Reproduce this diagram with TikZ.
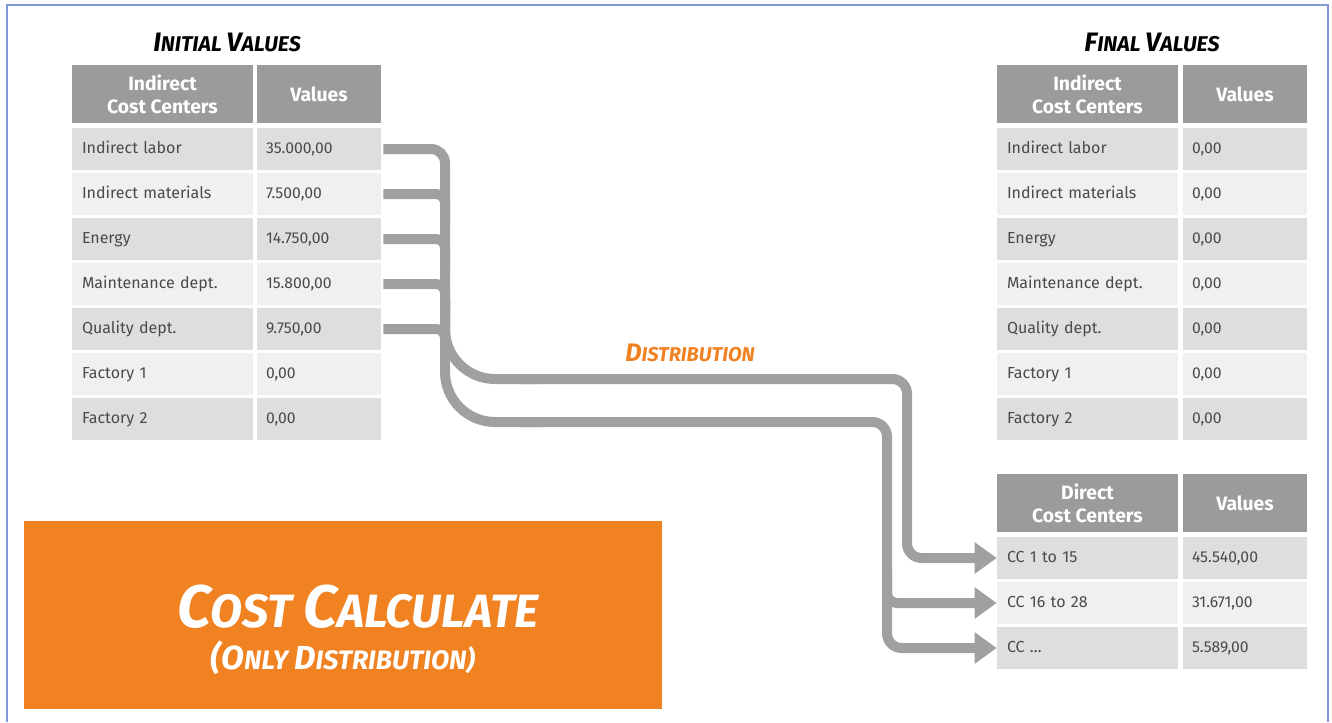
\documentclass[tikz,border=0pt]{standalone}
\usepackage{fontspec}
\setmainfont{Fira Sans}
\usetikzlibrary{arrows.meta}

\definecolor{hdr}{HTML}{9B9B9B}
\definecolor{rowA}{HTML}{DEDEDE}
\definecolor{rowB}{HTML}{EEF0F2}
\definecolor{txt}{HTML}{4A4A4A}
\definecolor{wirecol}{HTML}{A0A0A0}
\definecolor{accent}{HTML}{F18222}
\definecolor{framecol}{HTML}{7E98D8}

% first letter large, remaining letters smaller (hand-lettered small caps)
\newcommand\capsword[4]{{\fontsize{#1}{#1}\selectfont #3}{\fontsize{#2}{#2}\selectfont #4}}

\begin{document}
\begin{tikzpicture}[x=0.75pt,y=-0.75pt,
  cell/.style={inner ysep=0pt, minimum height=31.5pt, text=txt, align=left,
    text height=9pt, text depth=2.5pt},
  namecell/.style={cell, inner xsep=7.5pt, text width=120.75pt, font=\fontsize{12}{14}\selectfont},
  valcell/.style={cell, inner xsep=6.75pt, text width=79.5pt, font=\fontsize{11.8}{14}\selectfont},
  headcell/.style={fill=hdr, inner sep=0pt, minimum height=43.5pt, text=white,
    font=\bfseries\fontsize{14.5}{16}\selectfont, align=center},
  headname/.style={headcell, minimum width=135.75pt},
  headval/.style={headcell, minimum width=93pt},
  title/.style={font=\bfseries\itshape, text=black},
  wire/.style={draw=wirecol, line width=7.5pt},
  tip/.style={-{Triangle[length=16.5pt,width=22.5pt]}}
]
\useasboundingbox (0,0) rectangle (1332,722);

% outer frame
\draw[framecol, line width=2pt] (7,722) -- (7,5) -- (1328,5) -- (1328,722);

% ---------- initial values ----------
\node[title, font=\bfseries\itshape\fontsize{16}{16}\selectfont] (tinit) at (227,42)
  {\capsword{20}{16}{I}{NITIAL} \capsword{20}{16}{V}{ALUES}};
\node[headname] (LH) at (162.5,94) {Indirect\\[1pt]Cost Centers};
\node[headval]  (LVH) at (319,94) {Values};
\foreach \n/\v [count=\i] in {{Indirect labor}/{35.000,00},{Indirect materials}/{7.500,00},
    {Energy}/{14.750,00},{Maintenance dept.}/{15.800,00},{Quality dept.}/{9.750,00},
    {Factory 1}/{0,00},{Factory 2}/{0,00}}{
  \ifodd\i \def\rf{rowA}\else\def\rf{rowB}\fi
  \node[namecell, fill=\rf] (L\i)  at (162.5,{149+45*(\i-1)}) {\n};
  \node[valcell,  fill=\rf] (LV\i) at (319,{149+45*(\i-1)}) {\v};
}

% ---------- final values ----------
\node[title, font=\bfseries\itshape\fontsize{16}{16}\selectfont] (tfin) at (1152,42)
  {\capsword{20}{16}{F}{INAL} \capsword{20}{16}{V}{ALUES}};
\node[headname] (RH) at (1087.5,94) {Indirect\\[1pt]Cost Centers};
\node[headval]  (RVH) at (1245,94) {Values};
\foreach \n [count=\i] in {Indirect labor,Indirect materials,Energy,Maintenance dept.,
    Quality dept.,Factory 1,Factory 2}{
  \ifodd\i \def\rf{rowA}\else\def\rf{rowB}\fi
  \node[namecell, fill=\rf] (R\i)  at (1087.5,{149+45*(\i-1)}) {\n};
  \node[valcell,  fill=\rf] (RV\i) at (1245,{149+45*(\i-1)}) {0,00};
}

% ---------- direct cost centers ----------
\node[headname] (DH) at (1087.5,503) {Direct\\[1pt]Cost Centers};
\node[headval]  (DVH) at (1245,503) {Values};
\foreach \n/\v [count=\i] in {{CC 1 to 15}/{45.540,00},{CC 16 to 28}/{31.671,00},{CC \dots}/{5.589,00}}{
  \ifodd\i \def\rf{rowA}\else\def\rf{rowB}\fi
  \node[namecell, fill=\rf] (D\i)  at (1087.5,{558+45*(\i-1)}) {\n};
  \node[valcell,  fill=\rf] (DV\i) at (1245,{558+45*(\i-1)}) {\v};
}

% ---------- distribution connectors ----------
\coordinate (trunk) at (445,149);
\coordinate (ja) at (445,379);
\coordinate (jb) at (445,422);
\coordinate (ca) at (907,379);
\coordinate (cb) at (887,422);

% collecting stubs into the trunk
\draw[wire, rounded corners=10.5pt] ([xshift=1.5pt]LV1.east) -- (LV1.east -| trunk) -- ++(0,200);
\foreach \i in {2,...,5}{
  \draw[wire, rounded corners=6.75pt] ([xshift=1.5pt]LV\i.east) -- (LV\i.east -| trunk) -- ++(0,30);
}
% two branches leaving the trunk
\draw[wire, rounded corners=37.5pt] (445,300) -- (ja) -- (540,379);
\draw[wire, rounded corners=37.5pt] (445,300) -- (jb) -- (540,422);
% upper branch to CC 1 to 15
\draw[wire, tip, rounded corners=11pt] (520,379) -- (ca) -- (ca |- D1) -- (D1.west);
% lower branch to CC 16 to 28 and CC ...
\draw[wire, tip, rounded corners=11pt] (520,422) -- (cb) -- (cb |- D3) -- (D3.west);
\draw[wire, tip, rounded corners=7.5pt] (887,570) -- (cb |- D2) -- (D2.west);

\node[title, text=accent, font=\bfseries\itshape\fontsize{15}{15}\selectfont] (dist) at (690,353)
  {\capsword{19}{15}{D}{ISTRIBUTION}};

% ---------- calculation banner ----------
\node[fill=accent, minimum width=478.5pt, minimum height=141pt, inner sep=0pt] (calc) at (343,615) {};
\node[title, text=white, font=\bfseries\itshape\fontsize{35}{35}\selectfont] (calct) at (358,607)
  {\capsword{45}{35}{C}{OST} \capsword{45}{35}{C}{ALCULATE}};
\node[title, text=white, font=\bfseries\itshape\fontsize{20}{20}\selectfont] (calcs) at (343,658)
  {\capsword{25}{20}{(O}{NLY} \capsword{25}{20}{D}{ISTRIBUTION)}};
\end{tikzpicture}
\end{document}
